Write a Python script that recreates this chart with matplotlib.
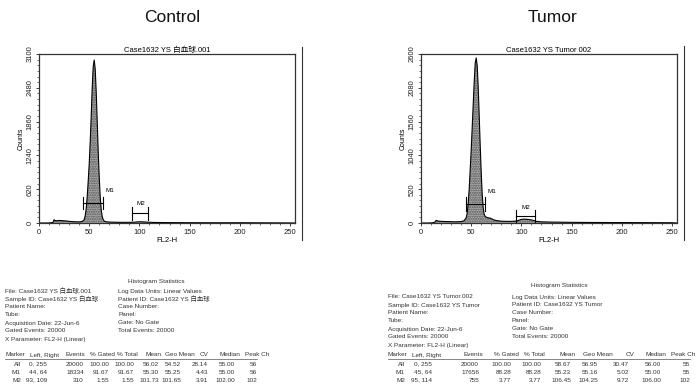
import numpy as np
import matplotlib
matplotlib.use('Agg')
import matplotlib.pyplot as plt
from matplotlib.lines import Line2D

plt.rcParams['font.family'] = ['Liberation Sans', 'Noto Sans CJK JP', 'DejaVu Sans']

# --- data ---
ctrl_ch = [0, 8, 12, 14, 15, 16, 18, 20, 22, 25, 28, 30, 33, 36, 40, 43, 45, 46, 47, 48, 49,
           50, 51, 52, 53, 54, 55, 56, 57, 58, 59, 60, 61, 62, 63, 64, 65, 66, 68, 72, 80,
           90, 95, 98, 100, 103, 106, 109, 115, 125, 140, 160, 180, 200, 220, 240, 255]
ctrl_counts = [0, 0, 4, 12, 60, 45, 40, 48, 44, 40, 36, 30, 26, 22, 20, 28, 60, 130, 260, 480, 760,
               1080, 1480, 1960, 2480, 2870, 2990, 2820, 2400, 1860, 1300, 840, 470, 240, 115, 60, 35, 25, 20, 16, 12,
               12, 15, 20, 22, 21, 18, 14, 10, 8, 6, 5, 4, 5, 3, 2, 0]

tum_ch = [0, 8, 12, 14, 15, 17, 20, 25, 30, 35, 40, 43, 45, 46, 47, 48, 49, 50, 51, 52, 53,
          54, 55, 56, 57, 58, 59, 60, 61, 62, 63, 64, 65, 67, 69, 71, 73, 76, 80, 85, 90,
          95, 98, 100, 103, 106, 109, 112, 115, 120, 130, 150, 170, 190, 210, 230, 250, 255]
tum_counts = [0, 0, 4, 15, 40, 30, 25, 22, 20, 18, 22, 35, 80, 150, 300, 520, 820, 1120, 1470, 1820, 2170,
              2460, 2540, 2420, 2080, 1640, 1180, 770, 430, 225, 130, 100, 90, 80, 75, 60, 45, 35, 28, 25, 25,
              30, 45, 55, 60, 55, 50, 40, 25, 18, 14, 10, 8, 7, 6, 5, 4, 0]

ctrl_ymax = 3100
tum_ymax = 2600
ctrl_markers = [('M1', 44, 64), ('M2', 93, 109)]
tum_markers = [('M1', 45, 64), ('M2', 95, 114)]

stat_cols = ['Marker', 'Left, Right', 'Events', '% Gated', '% Total', 'Mean', 'Geo Mean', 'CV', 'Median', 'Peak Ch']
ctrl_rows = [['All', '0, 255', '20000', '100.00', '100.00', '56.02', '54.52', '28.14', '55.00', '56'],
             ['M1', '44, 64', '18334', '91.67', '91.67', '55.30', '55.25', '4.43', '55.00', '56'],
             ['M2', '93, 109', '310', '1.55', '1.55', '101.73', '101.65', '3.91', '102.00', '102']]
tum_rows = [['All', '0, 255', '20000', '100.00', '100.00', '58.67', '56.95', '30.47', '56.00', '55'],
            ['M1', '45, 64', '17656', '88.28', '88.28', '55.23', '55.16', '5.02', '55.00', '55'],
            ['M2', '95, 114', '755', '3.77', '3.77', '106.45', '104.25', '9.72', '106.00', '102']]

ctrl_info_l = ['File: Case1632 YS 白血球.001', 'Sample ID: Case1632 YS 白血球', 'Patient Name:', 'Tube:',
               'Acquisition Date: 22-Jun-6', 'Gated Events: 20000', 'X Parameter: FL2-H (Linear)']
ctrl_info_r = ['Log Data Units: Linear Values', 'Patient ID: Case1632 YS 白血球', 'Case Number:', 'Panel:',
               'Gate: No Gate', 'Total Events: 20000']
tum_info_l = ['File: Case1632 YS Tumor.002', 'Sample ID: Case1632 YS Tumor', 'Patient Name:', 'Tube:',
              'Acquisition Date: 22-Jun-6', 'Gated Events: 20000', 'X Parameter: FL2-H (Linear)']
tum_info_r = ['Log Data Units: Linear Values', 'Patient ID: Case1632 YS Tumor', 'Case Number:', 'Panel:',
              'Gate: No Gate', 'Total Events: 20000']

W, H = 697, 390
fig = plt.figure(figsize=(W / 100, H / 100), dpi=100)


def fx(x):
    return x / W


def fy(y):
    return 1 - y / H


def histo(left, title, ch, counts, ymax, markers, label_y):
    ax = fig.add_axes([fx(left), fy(223), fx(256), 169 / H])
    ax.fill_between(ch, counts, color='#ababab', hatch='.......', edgecolor='#555555', linewidth=0)
    ax.plot(ch, counts, color='k', lw=0.8)
    ax.set_xlim(0, 255)
    ax.set_ylim(0, ymax)
    ax.set_xticks(range(0, 251, 50))
    ax.set_xticks(range(0, 256, 10), minor=True)
    ax.set_yticks(np.linspace(0, ymax, 6))
    ax.set_yticks(np.linspace(0, ymax, 31), minor=True)
    ax.set_yticklabels([str(int(v)) for v in np.linspace(0, ymax, 6)], rotation=90, va='center')
    ax.tick_params(labelsize=5.5, length=2.5, width=0.6, pad=1.5, colors='#222')
    ax.tick_params(which='minor', length=1.3, width=0.4)
    for s in ax.spines.values():
        s.set_linewidth(0.9)
        s.set_color('#333')
    ax.set_title(title, fontsize=5.5, pad=1.5)
    ax.set_xlabel('FL2-H', fontsize=5.5, labelpad=1)
    ax.set_ylabel('Counts', fontsize=5, labelpad=1)
    # marker brackets
    for (name, lo, hi), (yb, yt, yl) in zip(markers, label_y):
        ym = (yb + yt) / 2
        ax.plot([lo, hi], [ym, ym], color='k', lw=0.8)
        ax.plot([lo, lo], [yb, yt], color='k', lw=0.8)
        ax.plot([hi, hi], [yb, yt], color='k', lw=0.8)
        if name == 'M1':
            ax.text(hi + 2, yl, name, fontsize=4.5, ha='left', va='center')
        else:
            ax.text((lo + hi) / 2, yl, name, fontsize=4.5, ha='center', va='center')
    return ax


histo(39, 'Case1632 YS 白血球.001', ctrl_ch, ctrl_counts, ctrl_ymax, ctrl_markers,
      [(250, 480, 590), (60, 290, 360)])
histo(421, 'Case1632 YS Tumor 002', tum_ch, tum_counts, tum_ymax, tum_markers,
      [(190, 400, 490), (20, 200, 240)])

fig.text(fx(172), fy(18), 'Control', fontsize=12.5, ha='center', va='center', color='#111')
fig.text(fx(552), fy(18), 'Tumor', fontsize=12.5, ha='center', va='center', color='#111')

# scan border lines
fig.add_artist(Line2D([fx(302), fx(302)], [fy(47), fy(240)], color='#333', lw=0.8))
fig.add_artist(Line2D([fx(684), fx(684)], [fy(46), fy(240)], color='#333', lw=0.8))


def stats_block(hx, hy, lx, rx, y0, info_l, info_r, ty, hdr_x, val_x, rows):
    tc = '#333'
    fs = 4.6
    fig.text(fx(hx), fy(hy), 'Histogram Statistics', fontsize=fs, color=tc, va='center')
    for i, s in enumerate(info_l):
        fig.text(fx(lx), fy(y0 + 8 * i), s, fontsize=fs, color=tc, va='center')
    for i, s in enumerate(info_r):
        fig.text(fx(rx), fy(y0 + 8 * i), s, fontsize=fs, color=tc, va='center')
    for j, (x, s) in enumerate(zip(hdr_x, stat_cols)):
        ha = 'right' if x > 690 else 'left'
        fig.text(fx(x), fy(ty), s, fontsize=fs, color=tc, va='center', ha=ha)
    fig.add_artist(Line2D([fx(hdr_x[0]), fx(min(val_x[-1], 695))], [fy(ty + 4), fy(ty + 4)],
                          color='#555', lw=0.5))
    for r, row in enumerate(rows):
        for x, s in zip(val_x, row):
            fig.text(fx(x), fy(ty + 9 + 8 * r), s, fontsize=fs, color=tc, va='center', ha='right')


stats_block(128, 281, 5, 118, 291, ctrl_info_l, ctrl_info_r, 355,
            [5, 30, 65, 90, 117, 145, 165, 200, 220, 245],
            [21, 47, 84, 109, 134, 159, 181, 208, 235, 257], ctrl_rows)
stats_block(531, 286, 388, 512, 297, tum_info_l, tum_info_r, 355,
            [388, 412, 463, 494, 524, 560, 583, 626, 645, 695],
            [405, 432, 479, 511, 541, 571, 598, 629, 661, 690], tum_rows)

fig.savefig('out.png', dpi=100)
